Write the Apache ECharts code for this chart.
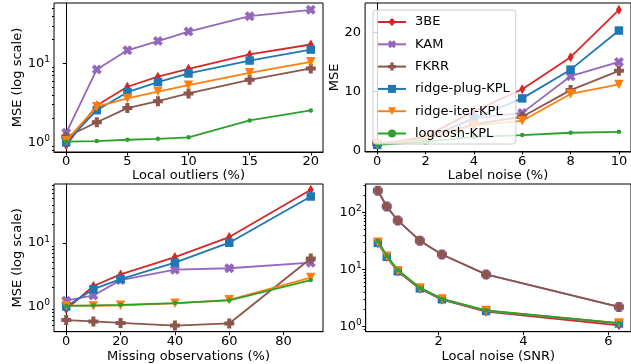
<!DOCTYPE html>
<html>
<head>
<meta charset="utf-8">
<script src="https://cdn.jsdelivr.net/npm/echarts@6/dist/echarts.min.js"></script>
<style>
  body { margin: 0; background: #fff; }
  #chart { width: 631px; height: 364px; }
</style>
</head>
<body>
<div id="chart"></div>
<script>
// x values of each panel
var outlierPct = [0, 2.5, 5, 7.5, 10, 15, 20];
var labelNoisePct = [0, 2, 4, 6, 8, 10];
var missingPct = [0, 10, 20, 40, 60, 90];
var snr = [0.57, 0.78, 1.04, 1.56, 2.08, 3.12, 6.25];

var methods = ["3BE", "KAM", "FKRR", "ridge-plug-KPL", "ridge-iter-KPL", "logcosh-KPL"];

// MSE, local outliers (log scale)
var outlier3BE = [0.92, 2.94, 5.07, 6.8, 8.57, 13.0, 17.4];
var outlierKAM = [1.32, 8.4, 14.7, 19.2, 25.4, 39.7, 47.9];
var outlierFKRR = [1.17, 1.8, 2.72, 3.33, 4.17, 6.2, 8.66];
var outlierPlug = [1.0, 2.56, 4.33, 5.8, 7.47, 10.9, 15.0];
var outlierIter = [1.05, 2.83, 3.6, 4.4, 5.3, 7.6, 10.5];
var outlierLogcosh = [1.02, 1.04, 1.08, 1.11, 1.16, 1.9, 2.54];

// MSE, label noise
var noise3BE = [1.0, 2.4, 6.7, 10.4, 15.8, 23.8];
var noiseKAM = [1.25, 2.0, 5.5, 6.4, 12.6, 15.0];
var noiseFKRR = [1.2, 1.9, 4.5, 5.75, 10.25, 13.5];
var noisePlug = [1.0, 2.1, 5.5, 8.85, 13.7, 20.3];
var noiseIter = [1.1, 2.0, 4.3, 5.07, 9.6, 11.2];
var noiseLogcosh = [1.0, 1.5, 2.35, 2.65, 3.05, 3.2];

// MSE, missing observations (log scale)
var missing3BE = [0.9, 2.1, 3.2, 6.0, 12.4, 69];
var missingKAM = [1.23, 1.49, 2.6, 3.8, 4.0, 4.9];
var missingFKRR = [0.61, 0.58, 0.55, 0.50, 0.54, 5.7];
var missingPlug = [1.0, 1.87, 2.7, 4.9, 10.1, 54];
var missingIter = [1.03, 1.02, 1.04, 1.12, 1.27, 2.85];
var missingLogcosh = [1.02, 1.04, 1.06, 1.13, 1.25, 2.6];

// MSE, local noise (log scale)
var snr3BE = [29, 16.5, 9.2, 4.6, 2.95, 1.82, 1.05];
var snrKAM = [241, 127, 72.5, 32, 18.3, 8.2, 2.2];
var snrFKRR = [241, 127, 72.5, 32, 18.3, 8.2, 2.2];
var snrPlug = [29.3, 16.7, 9.3, 4.66, 3.0, 1.87, 1.13];
var snrIter = [30, 17, 9.5, 4.75, 3.05, 1.9, 1.15];
var snrLogcosh = [32, 17.5, 9.8, 4.8, 3.05, 1.92, 1.15];

// tick labels
var outlierTicks = [0, 5, 10, 15, 20];
var labelNoiseTicks = [0, 2, 4, 6, 8, 10];
var mseTicks = [0, 10, 20];
var missingTicks = [0, 20, 40, 60, 80];
var snrTicks = [2, 4, 6];
var logTicksTwo = [1, 10];
var logTicksThree = [1, 10, 100];
var minorTicks = [0.4, 0.5, 0.6, 0.7, 0.8, 0.9, 2, 3, 4, 5, 6, 7, 8, 9, 20, 30, 40, 50, 60, 70, 80, 90, 200, 300];

var panels = [
  { x: outlierPct, ys: [outlier3BE, outlierKAM, outlierFKRR, outlierPlug, outlierIter, outlierLogcosh] },
  { x: labelNoisePct, ys: [noise3BE, noiseKAM, noiseFKRR, noisePlug, noiseIter, noiseLogcosh] },
  { x: missingPct, ys: [missing3BE, missingKAM, missingFKRR, missingPlug, missingIter, missingLogcosh] },
  { x: snr, ys: [snr3BE, snrKAM, snrFKRR, snrPlug, snrIter, snrLogcosh] }
];

var FONT = "DejaVu Sans";
var styles = [
  { color: "#d62728", symbol: "path://M0,-1L0.6,0L0,1L-0.6,0Z", size: [6, 10], rotate: 0 },
  { color: "#9467bd", symbol: "path://M-1,-0.45L-0.45,-1L0,-0.55L0.45,-1L1,-0.45L0.55,0L1,0.45L0.45,1L0,0.55L-0.45,1L-1,0.45L-0.55,0Z", size: 10, rotate: 0 },
  { color: "#8c564b", symbol: "path://M-0.4,-1H0.4V-0.4H1V0.4H0.4V1H-0.4V0.4H-1V-0.4H-0.4Z", size: 10, rotate: 0 },
  { color: "#1f77b4", symbol: "rect", size: 8.5, rotate: 0 },
  { color: "#ff7f0e", symbol: "triangle", size: 9.5, rotate: 180 },
  { color: "#2ca02c", symbol: "circle", size: 4.5, rotate: 0 }
];

function pairs(xs, ys) {
  return xs.map(function (x, i) { return [x, ys[i]]; });
}

function logLabel(v) {
  var e = Math.round(Math.log10(v));
  return "{b|10}{s|" + e + "}";
}

var richLog = {
  b: { fontFamily: FONT, fontSize: 13, color: "#000" },
  s: { fontFamily: FONT, fontSize: 9, color: "#000", padding: [0, 0, 7, 0] }
};

function xAxis(gi, min, max, ticks, name, gap) {
  return {
    type: "value", gridIndex: gi, min: min, max: max,
    name: name, nameLocation: "middle", nameGap: gap,
    nameTextStyle: { fontFamily: FONT, fontSize: 13, color: "#000" },
    axisLine: { lineStyle: { color: "#000", width: 1 } },
    axisTick: { length: 3.5, lineStyle: { color: "#000" }, customValues: ticks },
    axisLabel: { margin: 3, fontFamily: FONT, fontSize: 13, color: "#000", customValues: ticks },
    splitLine: { show: false }
  };
}

function yLog(gi, min, max, ticks, name, gap) {
  return {
    type: "log", logBase: 10, gridIndex: gi, min: min, max: max,
    name: name, nameLocation: "middle", nameGap: gap,
    nameTextStyle: { fontFamily: FONT, fontSize: 13, color: "#000" },
    axisLine: { show: true, lineStyle: { color: "#000", width: 1 } },
    axisTick: { length: 3.5, lineStyle: { color: "#000" }, customValues: ticks },
    axisLabel: { margin: 4, formatter: logLabel, rich: richLog, customValues: ticks },
    splitLine: { show: false }
  };
}

function yMinor(gi, min, max) {
  var vals = minorTicks.filter(function (v) { return v > min && v < max; });
  return {
    type: "log", logBase: 10, gridIndex: gi, min: min, max: max, position: "left",
    axisLine: { show: false },
    axisTick: { show: true, length: 2, lineStyle: { color: "#000" }, customValues: vals },
    axisLabel: { show: false },
    splitLine: { show: false }
  };
}

var gridBox = { show: true, borderColor: "#000", borderWidth: 1, backgroundColor: "transparent" };
var grids = [
  Object.assign({ left: 54, top: 3, width: 269, height: 149 }, gridBox),
  Object.assign({ left: 365.1, top: 3, width: 268.4, height: 149 }, gridBox),
  Object.assign({ left: 54, top: 184, width: 269, height: 147.7 }, gridBox),
  Object.assign({ left: 365.7, top: 184, width: 268, height: 147.7 }, gridBox)
];

var xAxes = [
  xAxis(0, -1, 21, outlierTicks, "Local outliers (%)", 15),
  xAxis(1, -0.5, 10.5, labelNoiseTicks, "Label noise (%)", 15),
  xAxis(2, -4.5, 94.5, missingTicks, "Missing observations (%)", 18),
  xAxis(3, 0.284, 6.534, snrTicks, "Local noise (SNR)", 18)
];

var yLin = {
  type: "value", gridIndex: 1, min: -0.2, max: 24.95,
  name: "MSE", nameLocation: "middle", nameGap: 23,
  nameTextStyle: { fontFamily: FONT, fontSize: 13, color: "#000" },
  axisLine: { show: true, lineStyle: { color: "#000", width: 1 } },
  axisTick: { show: true, length: 3.5, lineStyle: { color: "#000" }, customValues: mseTicks },
  axisLabel: { margin: 4, fontFamily: FONT, fontSize: 13, color: "#000", customValues: mseTicks },
  splitLine: { show: false }
};

var yAxes = [
  yLog(0, 0.755, 58.4, logTicksTwo, "MSE (log scale)", 27),
  yLin,
  yLog(2, 0.40, 85, logTicksTwo, "MSE (log scale)", 27),
  yLog(3, 0.81, 316, logTicksThree, "", 0),
  yMinor(0, 0.755, 58.4),
  yMinor(2, 0.40, 85),
  yMinor(3, 0.81, 316)
];

var series = [];
panels.forEach(function (p, pi) {
  p.ys.forEach(function (ys, mi) {
    var st = styles[mi];
    series.push({
      name: methods[mi],
      type: "line",
      xAxisIndex: pi,
      yAxisIndex: pi,
      data: pairs(p.x, ys),
      symbol: st.symbol,
      symbolSize: st.size,
      symbolRotate: st.rotate,
      showAllSymbol: true,
      color: st.color,
      lineStyle: { color: st.color, width: 1.8 },
      itemStyle: { color: st.color, borderWidth: 0, opacity: 1 },
      emphasis: { disabled: true },
      z: 2 + mi * 0.01
    });
  });
});

var option = {
  animation: false,
  backgroundColor: "#fff",
  grid: grids,
  xAxis: xAxes,
  yAxis: yAxes,
  legend: {
    data: methods,
    orient: "vertical",
    left: 373,
    top: 10,
    itemWidth: 28,
    itemHeight: 10,
    itemGap: 9.3,
    padding: [5.5, 6, 4, 4],
    backgroundColor: "rgba(255,255,255,0.8)",
    borderColor: "#cccccc",
    borderWidth: 1,
    borderRadius: 3,
    textStyle: { fontFamily: FONT, fontSize: 13, color: "#000", padding: [0, 0, 0, 4] },
    z: 10
  },
  series: series
};

var myChart = echarts.init(document.getElementById("chart"));
myChart.setOption(option);
</script>
</body>
</html>
